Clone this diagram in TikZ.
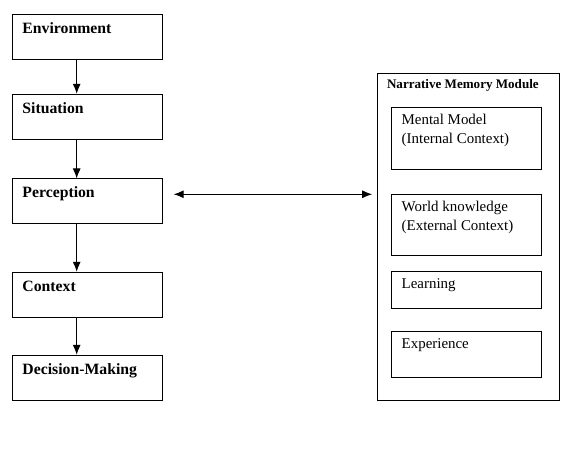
\documentclass[tikz,border=0pt]{standalone}
\usepackage{fontspec}
\setmainfont{Liberation Serif}
\usetikzlibrary{arrows.meta}

\begin{document}
\begin{tikzpicture}[
        > = {Latex[length=7.5pt, width=6pt]}, % arrow head style
        x = 0.75pt, y = -0.75pt, % one unit is one pixel, y downwards
        node distance = 60pt, % distance between stages
        line width = 0.75pt % line style
    ]

    \tikzstyle{stage}=[draw = black, rectangle, inner sep = 0pt,
    minimum width = 112.5pt, minimum height = 33.75pt]
    \tikzstyle{part}=[draw = black, rectangle, inner sep = 0pt,
    minimum width = 112.8pt]
    \tikzstyle{stagetext}=[anchor = base west, inner sep = 0pt, xshift = 7.5pt,
    yshift = -14.5pt, font = \fontsize{11.8}{14}\selectfont\bfseries]
    \tikzstyle{parttext}=[anchor = base west, inner sep = 0pt, xshift = 7.8pt,
    yshift = -13pt, align = left, font = \fontsize{11.2}{14.25}\selectfont]

    \useasboundingbox (0,0) rectangle (579,457);

    % stages on the left
    \node (env) [stage, label={[stagetext]north west:Environment}] at (87.5,36.8) {};
    \node (sit) [stage, node distance = 60pt, below of=env,
    label={[stagetext]north west:Situation}] {};
    \node (per) [stage, node distance = 63.5pt, below of=sit,
    label={[stagetext]north west:Perception}] {};
    \node (con) [stage, node distance = 70pt, below of=per,
    label={[stagetext]north west:Context}] {};
    \node (dec) [stage, node distance = 62.25pt, below of=con,
    label={[stagetext]north west:Decision-Making}] {};

    % memory module on the right
    \node (mem) [draw = black, rectangle, inner sep = 0pt, minimum width = 136.5pt,
    minimum height = 245.5pt, label={[anchor = base west, inner sep = 0pt,
    xshift = 7.3pt, yshift = -12pt, font = \fontsize{9.8}{12}\selectfont\bfseries]north
    west:Narrative Memory Module}] at (468.3,237) {};
    \node (mm) [part, minimum height = 46.5pt, label={[parttext,
    yshift = -14.25pt]north west:Mental Model\\(Internal Context)}] at (466.5,138.3) {};
    \node (wk) [part, minimum height = 46pt, label={[parttext,
    yshift = -14.25pt]north west:World knowledge\\(External Context)}] at (466.5,225.3) {};
    \node (lrn) [part, minimum height = 27.75pt,
    label={[parttext]north west:Learning}] at (466.5,289.8) {};
    \node (exp) [part, minimum height = 34.5pt,
    label={[parttext]north west:Experience}] at (466.5,354.3) {};

    \path[->] ([xshift=-8.1pt]env.south) edge ([xshift=-8.1pt]sit.north);
    \path[->] ([xshift=-8.1pt]sit.south) edge ([xshift=-8.1pt]per.north);
    \path[->] ([xshift=-8.1pt]per.south) edge ([xshift=-8.1pt]con.north);
    \path[->] ([xshift=-8.1pt]con.south) edge ([xshift=-8.1pt]dec.north);

    \coordinate (pa) at ([yshift=5.4pt]per.east);
    \path[<->] (pa) edge[shorten <=8pt, shorten >=3.5pt] (pa -| mem.west);

\end{tikzpicture}
\end{document}
